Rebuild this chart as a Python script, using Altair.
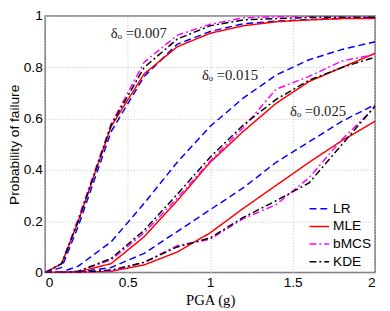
import altair as alt
import pandas as pd

pga = [0, 0.1, 0.2, 0.4, 0.6, 0.8, 1.0, 1.2, 1.4, 1.6, 1.8, 2.0]

methods = ["LR", "MLE", "bMCS", "KDE"]
levels = ["0.007", "0.015", "0.025"]

# delta_o = 0.007
lr_007   = [0, 0.020, 0.18, 0.550, 0.765, 0.890, 0.940, 0.970, 0.980, 0.987, 0.991, 0.995]
mle_007  = [0, 0.035, 0.20, 0.570, 0.775, 0.880, 0.933, 0.962, 0.978, 0.985, 0.990, 0.991]
bmcs_007 = [0, 0.035, 0.21, 0.580, 0.820, 0.925, 0.968, 0.993, 0.997, 1.000, 1.000, 1.000]
kde_007  = [0, 0.035, 0.20, 0.575, 0.800, 0.910, 0.962, 0.985, 0.990, 0.995, 0.995, 0.995]

# delta_o = 0.015
lr_015   = [0, 0.003, 0.025, 0.120, 0.270, 0.430, 0.570, 0.680, 0.770, 0.830, 0.870, 0.900]
mle_015  = [0, 0.000, 0.003, 0.035, 0.140, 0.280, 0.430, 0.550, 0.660, 0.745, 0.800, 0.855]
bmcs_015 = [0, 0.000, 0.005, 0.050, 0.155, 0.290, 0.435, 0.565, 0.715, 0.765, 0.825, 0.850]
kde_015  = [0, 0.000, 0.005, 0.055, 0.165, 0.305, 0.450, 0.575, 0.675, 0.750, 0.800, 0.840]

# delta_o = 0.025
lr_025   = [0, 0.000, 0.002, 0.020, 0.075, 0.160, 0.245, 0.330, 0.430, 0.510, 0.590, 0.655]
mle_025  = [0, 0.000, 0.000, 0.005, 0.030, 0.080, 0.155, 0.250, 0.340, 0.430, 0.515, 0.590]
bmcs_025 = [0, 0.000, 0.000, 0.005, 0.040, 0.105, 0.130, 0.210, 0.265, 0.370, 0.520, 0.645]
kde_025  = [0, 0.000, 0.000, 0.010, 0.040, 0.100, 0.135, 0.215, 0.280, 0.350, 0.500, 0.650]

series = {
    ("0.007", "LR"): lr_007, ("0.007", "MLE"): mle_007,
    ("0.007", "bMCS"): bmcs_007, ("0.007", "KDE"): kde_007,
    ("0.015", "LR"): lr_015, ("0.015", "MLE"): mle_015,
    ("0.015", "bMCS"): bmcs_015, ("0.015", "KDE"): kde_015,
    ("0.025", "LR"): lr_025, ("0.025", "MLE"): mle_025,
    ("0.025", "bMCS"): bmcs_025, ("0.025", "KDE"): kde_025,
}

ann_x = [0.398, 0.95, 1.484]
ann_y = [0.932, 0.77, 0.63]
ann_text = ["δₒ =0.007", "δₒ =0.015", "δₒ =0.025"]

rows = []
for (lev, m), vals in series.items():
    for i, (x, y) in enumerate(zip(pga, vals)):
        rows.append({"pga": x, "pf": y, "method": m, "level": lev,
                     "key": lev + m, "i": i})
df = pd.DataFrame(rows)
ann = pd.DataFrame({"x": ann_x, "y": ann_y, "t": ann_text})

W, H = 337, 262
xs = alt.Scale(domain=[0, 2], nice=False)
ys = alt.Scale(domain=[0, 1], nice=False)

lines = alt.Chart(df).mark_line(strokeWidth=1.5, clip=True).encode(
    x=alt.X("pga:Q", scale=xs, title="PGA (g)",
            axis=alt.Axis(values=[0, 0.5, 1, 1.5, 2], labelExpr="datum.value",
                          titleFont="Liberation Serif", titleFontSize=15,
                          titleFontWeight="normal", titlePadding=4)),
    y=alt.Y("pf:Q", scale=ys, title="Probability of failure",
            axis=alt.Axis(values=[0, 0.2, 0.4, 0.6, 0.8, 1], labelExpr="datum.value",
                          titleFont="Liberation Sans", titleFontSize=14,
                          titleFontWeight="normal", titleX=-31, titleY=H / 2,
                          titleAlign="center", titleBaseline="middle", titleAngle=270)),
    color=alt.Color("method:N", title=None,
                    scale=alt.Scale(domain=methods,
                                    range=["#0000ff", "#ff0000", "#ff00ff", "#000000"])),
    strokeDash=alt.StrokeDash("method:N", title=None,
                              scale=alt.Scale(domain=methods,
                                              range=[[7, 4], [1, 0], [7, 3, 2, 3], [7, 3, 2, 3]])),
    detail="key:N",
    order="i:Q",
)

texts = alt.Chart(ann).mark_text(align="left", baseline="middle",
                                 font="Liberation Serif", fontSize=15,
                                 color="#222").encode(
    x=alt.X("x:Q", scale=xs), y=alt.Y("y:Q", scale=ys), text="t:N")

chart = alt.layer(lines, texts).properties(
    width=W, height=H,
    autosize=alt.AutoSizeParams(type="none"),
    padding={"left": 38, "top": 5, "right": 7, "bottom": 36},
).configure_view(
    stroke="#7a7a7a", strokeWidth=1.6
).configure_axis(
    domain=False, ticks=False, grid=True, gridDash=[1, 2], gridColor="#c0c0c0",
    labelFont="Liberation Sans", labelFontSize=14, labelColor="#000",
    titleColor="#000", labelPadding=3,
).configure_legend(
    orient="none", legendX=269, legendY=188, padding=0,
    symbolType="stroke", symbolSize=400, symbolStrokeWidth=1.5,
    labelFont="Liberation Sans", labelFontSize=14, labelColor="#000",
    rowPadding=0, labelOffset=3, clipHeight=17.7,
)

chart.save("out.html", embed_options={"renderer": "svg", "actions": False})
